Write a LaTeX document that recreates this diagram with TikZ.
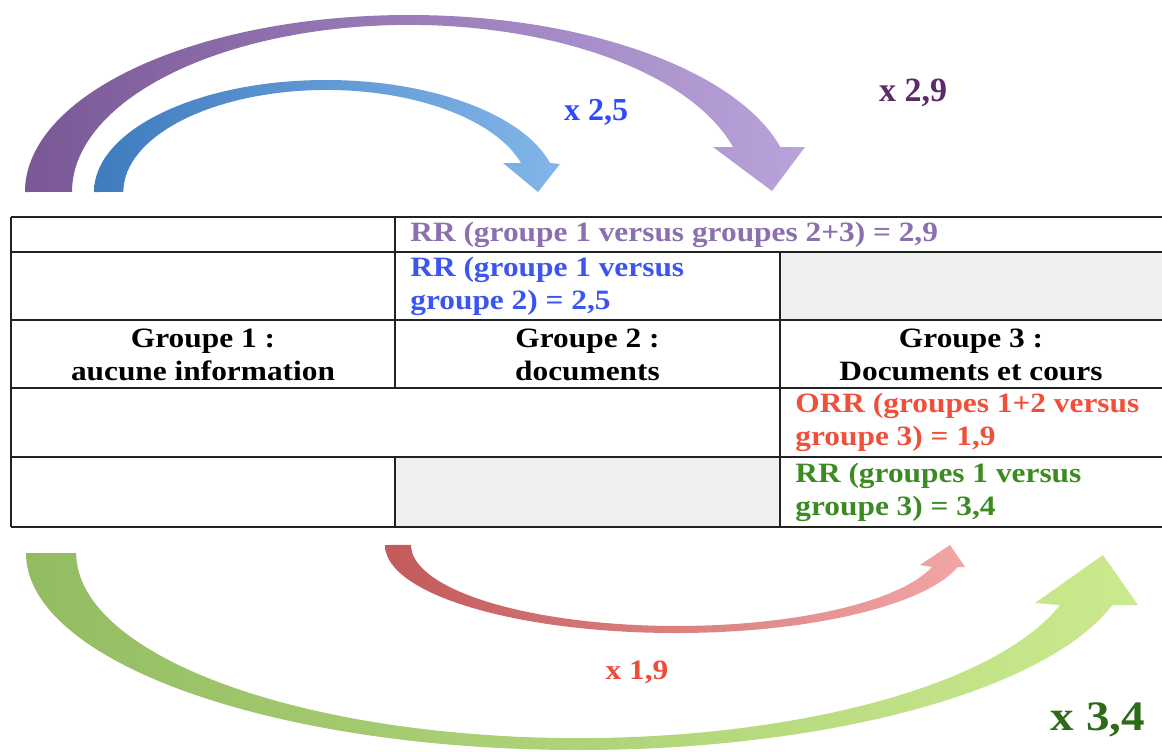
\documentclass[tikz,border=0pt]{standalone}
\usepackage{fontspec}
\setmainfont{Liberation Serif}
\newfontfamily\tabfont[FakeStretch=1.12]{Liberation Serif}
\definecolor{purpL}{HTML}{7A5896}
\definecolor{purpR}{HTML}{B9A3DB}
\definecolor{blueL}{HTML}{3F7CBE}
\definecolor{blueR}{HTML}{82B6EA}
\definecolor{greenL}{HTML}{93BC62}
\definecolor{greenR}{HTML}{CBEA8E}
\definecolor{redL}{HTML}{C25A5A}
\definecolor{redR}{HTML}{F2A6A6}
\definecolor{txtpurp}{HTML}{8B6FAE}
\definecolor{txtblue}{HTML}{3B55F0}
\definecolor{txtred}{HTML}{F0503A}
\definecolor{txtgreen}{HTML}{3C8A22}
\definecolor{labblue}{HTML}{3048FF}
\definecolor{labpurp}{HTML}{5A2A6A}
\definecolor{labred}{HTML}{F04A3A}
\definecolor{labgreen}{HTML}{2D6B18}
\definecolor{cellgray}{HTML}{EFEFEF}
\definecolor{rule}{HTML}{222222}
\tikzset{
  cell/.style={font=\tabfont\bfseries\fontsize{14}{16.5}\selectfont, inner sep=0pt, align=left, anchor=west},
  head/.style={font=\tabfont\bfseries\fontsize{14}{16.5}\selectfont, inner sep=0pt, align=center, anchor=center},
  tabline/.style={draw=rule, line width=0.8pt},
}
\begin{document}
\begin{tikzpicture}[x=0.5pt, y=-0.5pt]
\useasboundingbox (0,0) rectangle (1162,751);
% ---- top arrows ----
\shade[left color=purpL, right color=purpR]
  (25,192) arc[start angle=180, end angle=345.3, x radius=384, y radius=177]
  -- (805,147) -- (772,191) -- (713,147) -- (733,147)
  arc[start angle=344.4, end angle=180, x radius=336.7, y radius=167] -- cycle;
\shade[left color=blueL, right color=blueR]
  (94,192) arc[start angle=180, end angle=345, x radius=232, y radius=112]
  -- (560,164) -- (538,192) -- (503,163) -- (521,163)
  arc[start angle=343.5, end angle=180, x radius=203, y radius=102] -- cycle;
% ---- bottom arrows ----
\shade[left color=greenL, right color=greenR]
  (26,553) arc[start angle=180, end angle=15.3, x radius=553, y radius=197]
  -- (1138,605) -- (1103,555) -- (1035,603) -- (1060,605)
  arc[start angle=16.3, end angle=180, x radius=502, y radius=185] -- cycle;
\shade[left color=redL, right color=redR]
  (385,545) arc[start angle=180, end angle=14.5, x radius=291, y radius=88]
  -- (965,567) -- (950,545) -- (920,565) -- (932,567)
  arc[start angle=15.8, end angle=180, x radius=265.5, y radius=81] -- cycle;
% ---- table ----
\fill[cellgray] (780,252) rectangle (1162,320);
\fill[cellgray] (395,457) rectangle (780,527);
\foreach \yy in {217,252,320,388,457,527}
  \draw[tabline] (11,\yy) -- (1162,\yy);
\draw[tabline] (11,217) -- (11,527);
\draw[tabline] (395,217) -- (395,388);
\draw[tabline] (395,457) -- (395,527);
\draw[tabline] (780,252) -- (780,527);
% ---- table texts ----
\node[cell, text=txtpurp] (rr29) at (410,234.5) {RR (groupe 1 versus groupes 2+3) = 2,9};
\node[cell, text=txtblue] (rr25) at (410,286) {RR (groupe 1 versus\\groupe 2) = 2,5};
\node[head] (g1) at (203,354.5) {Groupe 1 :\\aucune information};
\node[head] (g2) at (587.5,354.5) {Groupe 2 :\\documents};
\node[head] (g3) at (971,354.5) {Groupe 3 :\\Documents et cours};
\node[cell, text=txtred] (orr19) at (795,422.5) {ORR (groupes 1+2 versus\\groupe 3) = 1,9};
\node[cell, text=txtgreen] (rr34) at (795,492) {RR (groupes 1 versus\\groupe 3) = 3,4};
% ---- arrow labels ----
\node[font=\bfseries\fontsize{16}{18}\selectfont, text=labblue, inner sep=0pt] (l25) at (596,112) {x 2,5};
\node[font=\bfseries\fontsize{17}{19}\selectfont, text=labpurp, inner sep=0pt] (l29) at (913,93) {x 2,9};
\node[font=\tabfont\bfseries\fontsize{14}{16}\selectfont, text=labred, inner sep=0pt] (l19) at (637,672) {x 1,9};
\node[font=\tabfont\bfseries\fontsize{21}{23}\selectfont, text=labgreen, inner sep=0pt] (l34) at (1098,720) {x 3,4};
\end{tikzpicture}
\end{document}
